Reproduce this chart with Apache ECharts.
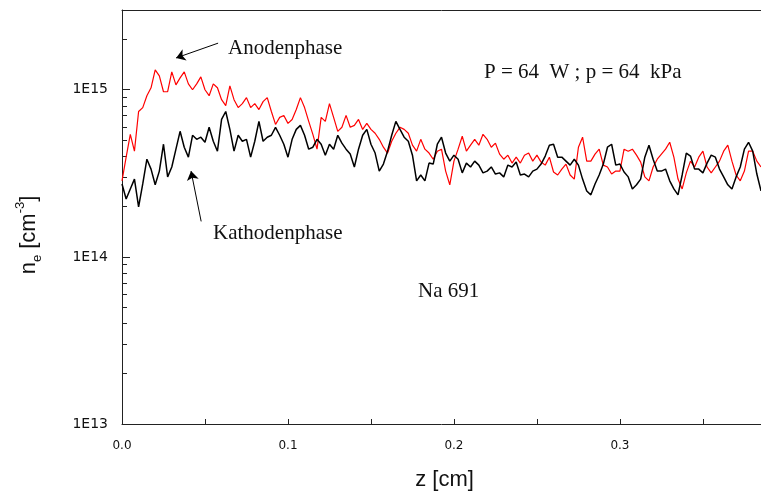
<!DOCTYPE html>
<html>
<head>
<meta charset="utf-8">
<script src="https://cdn.jsdelivr.net/npm/echarts@6/dist/echarts.min.js"></script>
<style>
  html, body { margin: 0; padding: 0; background: #fff; }
  #chart { width: 761px; height: 496px; }
</style>
</head>
<body>
<div id="chart"></div>
<script>
// sampling step of z (cm) shared by both traces
const zStep = 0.0025;

// n_e in units of 1E14 cm^-3
const anode = [
  2.85, 3.95, 5.41, 4.29, 7.41, 7.82, 9.21, 10.27, 13.14, 12.10,
  9.73, 9.73, 12.79, 10.69, 11.77, 12.79, 10.84, 10.0, 10.84, 11.94,
  10.0, 9.21, 10.84, 10.27, 8.72, 8.04, 10.55, 8.72, 7.82, 8.26,
  8.97, 7.82, 8.26, 7.61, 8.49, 8.97, 7.41, 6.20, 6.83, 7.02,
  6.29, 6.64, 7.61, 8.97, 7.82, 6.47, 5.41, 4.41, 6.83, 6.47,
  8.26, 6.83, 5.64, 5.96, 7.02, 5.96, 6.12, 6.64, 5.79, 6.29,
  5.79, 5.49, 5.05, 4.53, 4.18, 4.92, 5.49, 5.96, 5.79, 5.49,
  4.66, 4.29, 5.05, 4.41, 4.18, 3.84, 4.29, 4.41, 3.26, 2.70,
  3.74, 4.41, 5.27, 4.29, 4.66, 5.05, 4.66, 5.41, 5.05, 4.53,
  4.79, 4.12, 3.84, 4.06, 3.64, 3.95, 3.64, 4.06, 4.18, 3.74,
  4.06, 3.69, 3.54, 3.95, 3.22, 3.09, 3.35, 3.59, 3.09, 2.92,
  4.53, 5.20, 3.74, 3.74, 4.12, 4.41, 3.54, 3.45, 3.13, 3.26,
  3.26, 4.41, 4.29, 4.41, 4.06, 3.69, 3.01, 2.85, 3.45, 3.84,
  4.12, 4.41, 4.85, 3.95, 2.92, 2.55, 3.18, 3.74, 3.45, 3.95,
  4.29, 3.45, 3.18, 3.45, 3.74, 4.29, 4.66, 3.74, 3.09, 2.85,
  3.26, 4.29, 4.29, 3.74, 3.45
];

const cathode = [
  2.73, 2.22, 2.55, 2.92, 1.99, 2.73, 3.84, 3.35, 2.70, 3.26,
  4.72, 3.01, 3.45, 4.41, 5.64, 4.53, 3.95, 5.34, 5.05, 5.20,
  4.85, 5.96, 4.92, 4.29, 6.64, 7.41, 5.79, 4.29, 5.34, 4.92,
  5.05, 3.95, 4.92, 6.47, 4.92, 5.20, 5.34, 5.96, 5.34, 4.72,
  3.95, 5.05, 5.79, 6.12, 5.34, 4.41, 4.53, 5.05, 4.72, 4.06,
  4.72, 4.41, 5.34, 4.79, 4.41, 4.12, 3.45, 4.41, 5.34, 5.79,
  4.72, 4.18, 3.26, 3.59, 4.29, 5.34, 6.47, 5.79, 5.20, 4.92,
  4.06, 2.85, 3.09, 2.85, 3.64, 3.59, 4.72, 5.20, 4.18, 3.74,
  4.06, 3.84, 3.18, 3.64, 3.45, 3.74, 3.54, 3.18, 3.26, 3.45,
  3.13, 3.18, 3.01, 3.54, 3.45, 3.69, 3.09, 3.13, 3.01, 3.26,
  3.35, 3.59, 4.01, 4.66, 4.72, 3.95, 3.95, 3.74, 3.54, 3.84,
  3.54, 2.92, 2.48, 2.35, 2.73, 3.09, 3.59, 4.53, 4.72, 3.54,
  3.59, 3.22, 3.01, 2.55, 2.70, 2.92, 3.95, 4.66, 3.84, 3.26,
  3.26, 3.35, 2.85, 2.55, 2.35, 3.09, 4.18, 4.01, 3.35, 3.35,
  3.18, 3.64, 4.06, 3.95, 3.35, 3.01, 2.70, 2.55, 3.01, 3.45,
  4.41, 4.85, 4.29, 3.13, 2.48
];

const yMinorTicks = [
  2e13, 3e13, 4e13, 5e13, 6e13, 7e13, 8e13, 9e13,
  2e14, 3e14, 4e14, 5e14, 6e14, 7e14, 8e14, 9e14,
  2e15, 3e15
];

// annotation arrows in data coordinates [z, n_e]
const arrows = [
  { from: [0.0579, 1.90e15], to: [0.0326, 1.55e15] },
  { from: [0.0477, 1.63e14], to: [0.0416, 3.26e14] }
];

const notes = [
  { text: 'Anodenphase', left: 228, top: 38 },
  { text: 'P = 64  W ; p = 64  kPa', left: 484, top: 62 },
  { text: 'Kathodenphase', left: 213, top: 223 },
  { text: 'Na 691', left: 418, top: 281 }
];

const toPoints = arr => arr.map((v, i) => [i * zStep, v * 1e14]);

const axisColor = '#222';
const serif = '21px "Liberation Serif", "Times New Roman", serif';

const chart = echarts.init(document.getElementById('chart'));

chart.setOption({
  animation: false,
  backgroundColor: '#fff',
  grid: { left: 122, right: 0, top: 10, bottom: 69 },
  xAxis: [
    {
      type: 'value',
      min: 0,
      max: 0.385,
      interval: 0.05,
      name: 'z [cm]',
      nameLocation: 'middle',
      nameGap: 45,
      nameTextStyle: { fontFamily: 'Liberation Sans', fontSize: 22, color: '#111', padding: [0, 0, 0, 6] },
      axisLine: { lineStyle: { color: axisColor, width: 1 } },
      axisTick: { inside: true, length: 5, lineStyle: { color: axisColor } },
      axisLabel: {
        margin: 16,
        showMaxLabel: false,
        fontFamily: 'DejaVu Sans',
        fontSize: 12,
        color: '#111',
        formatter: v => (Math.round(v * 100) % 10 === 0 ? v.toFixed(1) : '')
      },
      splitLine: { show: false }
    },
    {
      type: 'value',
      position: 'top',
      min: 0,
      max: 0.385,
      axisLine: { lineStyle: { color: axisColor, width: 1 } },
      axisTick: { show: false },
      axisLabel: { show: false },
      splitLine: { show: false }
    }
  ],
  yAxis: [
    {
      type: 'log',
      logBase: 10,
      min: 1e13,
      max: 3e15,
      name: '{n|n}{sub|e}{n| [cm}{sup|-3}{n|]}',
      nameLocation: 'middle',
      nameGap: 78,
      nameRotate: 90,
      nameTextStyle: {
        color: '#111',
        padding: [0, 36, 0, 0],
        rich: {
          n: { fontFamily: 'Liberation Sans', fontSize: 22, color: '#111', lineHeight: 30, verticalAlign: 'middle' },
          sub: { fontFamily: 'Liberation Sans', fontSize: 13, color: '#111', lineHeight: 30, verticalAlign: 'bottom' },
          sup: { fontFamily: 'Liberation Sans', fontSize: 13, color: '#111', lineHeight: 30, verticalAlign: 'top' }
        }
      },
      axisLine: { show: true, lineStyle: { color: axisColor, width: 1 } },
      axisTick: { inside: true, length: 8, lineStyle: { color: axisColor } },
      axisLabel: {
        margin: 14,
        showMaxLabel: false,
        fontFamily: 'DejaVu Sans',
        fontSize: 14,
        color: '#111',
        formatter: v => {
          const e = Math.log10(v);
          const r = Math.round(e);
          return Math.abs(e - r) < 1e-6 ? '1E' + r : '';
        }
      },
      splitLine: { show: false }
    },
    {
      type: 'log',
      logBase: 10,
      min: 1e13,
      max: 3e15,
      position: 'left',
      axisLine: { show: false },
      axisTick: { show: true, inside: true, length: 5, customValues: yMinorTicks, lineStyle: { color: axisColor } },
      axisLabel: { show: false },
      splitLine: { show: false }
    }
  ],
  series: [
    {
      name: 'Kathodenphase',
      type: 'line',
      data: toPoints(cathode),
      showSymbol: false,
      lineStyle: { color: '#000', width: 1.5 },
      z: 3
    },
    {
      name: 'Anodenphase',
      type: 'line',
      data: toPoints(anode),
      showSymbol: false,
      lineStyle: { color: '#ff0000', width: 1.2 },
      z: 2,
      markLine: {
        silent: true,
        symbol: ['none', 'arrow'],
        symbolSize: 9,
        label: { show: false },
        lineStyle: { color: '#000', width: 1, type: 'solid' },
        data: arrows.map(a => [{ coord: a.from }, { coord: a.to }])
      }
    }
  ],
  graphic: notes.map(n => ({
    type: 'text',
    left: n.left,
    top: n.top,
    silent: true,
    style: { text: n.text, font: serif, fill: '#111' }
  }))
});
</script>
</body>
</html>
